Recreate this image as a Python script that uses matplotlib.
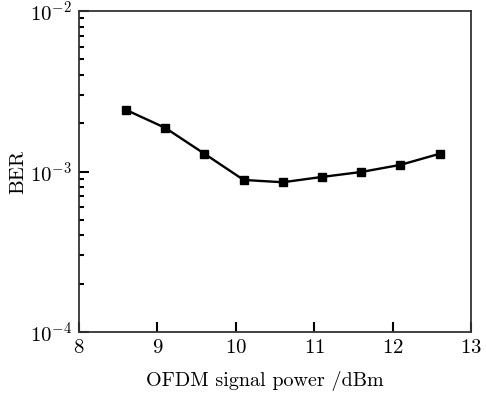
import matplotlib
matplotlib.use("Agg")
import matplotlib.pyplot as plt
from matplotlib.ticker import LogLocator, NullFormatter

plt.rcParams['font.family'] = ['cmr10']
plt.rcParams['mathtext.fontset'] = 'cm'
plt.rcParams['axes.formatter.use_mathtext'] = True

power = [8.6, 9.1, 9.6, 10.1, 10.6, 11.1, 11.6, 12.1, 12.6]
ber = [2.42e-3, 1.87e-3, 1.29e-3, 8.86e-4, 8.57e-4, 9.25e-4, 9.93e-4, 1.10e-3, 1.29e-3]

fig = plt.figure(figsize=(4.86, 3.95), dpi=100)
ax = fig.add_axes([79 / 486, 1 - 332 / 395, (471 - 79) / 486, (332 - 11) / 395])

ax.plot(power, ber, color='black', linewidth=1.7, marker='s', markersize=6)

ax.set_yscale('log')
ax.set_xlim(8, 13)
ax.set_ylim(1e-4, 1e-2)
ax.set_xticks([8, 9, 10, 11, 12, 13])
ax.yaxis.set_major_locator(LogLocator(base=10, numticks=5))
ax.yaxis.set_minor_locator(LogLocator(base=10, subs=range(2, 10), numticks=10))
ax.yaxis.set_minor_formatter(NullFormatter())

ax.tick_params(which='both', direction='in', top=False, right=False, labelsize=15, width=1.5)
ax.tick_params(which='major', length=7, pad=5)
ax.tick_params(which='minor', length=3.5)
for s in ax.spines.values():
    s.set_linewidth(1.3)
    s.set_color('#333333')

ax.set_xlabel('OFDM signal power /dBm', fontsize=14.5)
ax.xaxis.set_label_coords(0.475, -0.12)
ax.xaxis.label.set_va('top')
ax.set_ylabel('BER', fontsize=15, labelpad=2)

fig.savefig('out.png', dpi=100)
